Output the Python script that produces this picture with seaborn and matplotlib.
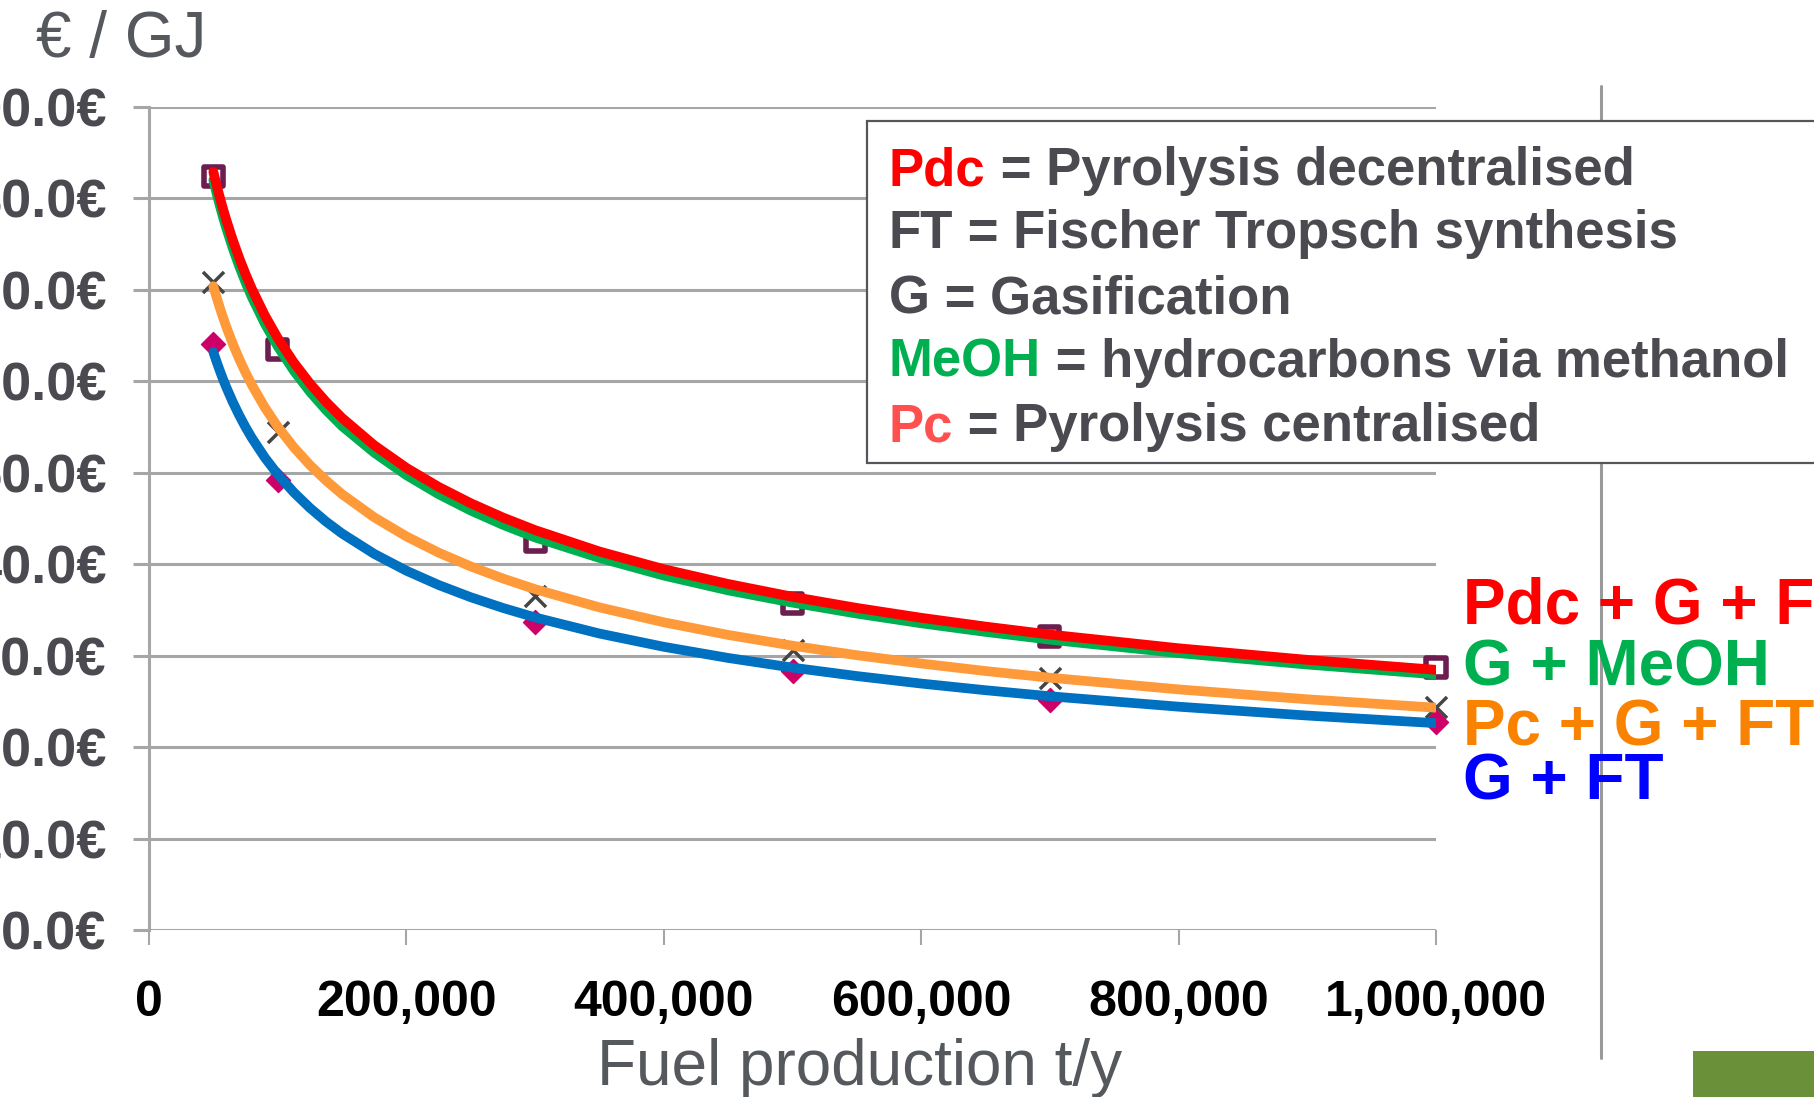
import matplotlib
matplotlib.use("Agg")
import matplotlib.pyplot as plt
import matplotlib.patches as mpatches
import seaborn as sns
import pandas as pd

# ---------------- data ----------------
x_points = [50000, 100000, 300000, 500000, 700000, 1000000]
cost_squares = [82.4, 63.5, 42.5, 35.7, 32.1, 28.7]      # Pdc + G + FT / G + MeOH markers
cost_crosses = [70.9, 54.5, 36.5, 30.6, 27.6, 24.4]      # Pc + G + FT markers
cost_diamonds = [64.1, 49.2, 33.7, 28.3, 25.2, 22.8]     # G + FT markers

trend_x = [50000, 52500, 55000, 57500, 60000, 65000, 70000, 75000, 80000, 90000,
           100000, 112500, 125000, 137500, 150000, 175000, 200000, 225000, 250000, 275000,
           300000, 350000, 400000, 450000, 500000, 550000, 600000, 650000, 700000, 800000,
           900000, 1000000]
trend_pdc_g_ft = [82.9, 81.47, 80.13, 78.86, 77.68, 75.49, 73.52, 71.73, 70.09, 67.21,
                  64.73, 62.06, 59.77, 57.77, 56.0, 53.01, 50.54, 48.46, 46.67, 45.11,
                  43.73, 41.39, 39.46, 37.84, 36.44, 35.22, 34.14, 33.18, 32.31, 30.81,
                  29.54, 28.45]
trend_g_meoh = [82.0, 80.57, 79.23, 77.96, 76.78, 74.59, 72.62, 70.83, 69.19, 66.31,
                63.83, 61.16, 58.87, 56.87, 55.1, 52.2, 49.74, 47.66, 45.87, 44.31,
                42.93, 40.69, 38.76, 37.14, 35.8, 34.6, 33.54, 32.6, 31.75, 30.28,
                29.03, 27.95]
trend_pc_g_ft = [70.4, 69.19, 68.06, 66.99, 65.99, 64.14, 62.47, 60.96, 59.58, 57.14,
                 55.04, 52.79, 50.85, 49.16, 47.66, 45.13, 43.04, 41.27, 39.76, 38.44,
                 37.27, 35.28, 33.65, 32.27, 31.09, 30.05, 29.14, 28.32, 27.59, 26.31,
                 25.23, 24.31]
trend_g_ft = [63.2, 62.15, 61.17, 60.24, 59.37, 57.76, 56.31, 54.99, 53.79, 51.66,
              49.83, 47.86, 46.16, 44.67, 43.36, 41.13, 39.29, 37.73, 36.39, 35.22,
              34.18, 32.42, 30.97, 29.75, 28.69, 27.77, 26.95, 26.22, 25.56, 24.42,
              23.45, 22.62]

y_ticks = [0, 10, 20, 30, 40, 50, 60, 70, 80, 90]
x_ticks = [0, 200000, 400000, 600000, 800000, 1000000]
x_tick_labels = ["0", "200,000", "400,000", "600,000", "800,000", "1,000,000"]

series_labels = ["Pdc + G + FT", "G + MeOH", "Pc + G + FT", "G + FT"]
series_colors = ["#ff0000", "#00b050", "#f98200", "#0000ff"]
line_colors = {"Pdc + G + FT": "#ff0000", "G + MeOH": "#00b050",
               "Pc + G + FT": "#ff9a3a", "G + FT": "#0070c0"}

legend_lines = [
    ("Pdc", "#ff0000", " = Pyrolysis decentralised"),
    ("FT", "#4a4a50", " = Fischer Tropsch synthesis"),
    ("G", "#4a4a50", " = Gasification"),
    ("MeOH", "#00b050", " = hydrocarbons via methanol"),
    ("Pc", "#ff5050", " = Pyrolysis centralised"),
]

# ---------------- style ----------------
sns.set_theme(style="white")
plt.rcParams["font.family"] = ["Liberation Sans", "DejaVu Sans"]

W, H = 1814, 1097
fig = plt.figure(figsize=(W / 100, H / 100), dpi=100)
fig.patch.set_facecolor("white")


def fx(px):
    return px / W


def fy(py):
    return 1 - py / H


ax_left, ax_right, ax_top, ax_bottom = 149, 1436, 107, 930
ax = fig.add_axes([fx(ax_left), fy(ax_bottom), fx(ax_right - ax_left), (ax_bottom - ax_top) / H])
ax.set_facecolor("white")

grid_col = "#a6a6a6"
ax.set_xlim(0, 1000000)
ax.set_ylim(0, 90)
ax.set_yticks(y_ticks)
ax.set_yticklabels([f"{v:.1f}€" for v in y_ticks])
ax.set_xticks(x_ticks)
ax.set_xticklabels(x_tick_labels)
ax.yaxis.grid(True, color=grid_col, linewidth=2.2, zorder=0)
ax.xaxis.grid(False)
ax.set_axisbelow(True)
for s in ["top", "right", "bottom"]:
    ax.spines[s].set_visible(False)
ax.spines["left"].set_color(grid_col)
ax.spines["left"].set_linewidth(2.2)

ax.tick_params(axis="y", which="major", direction="out", length=11.5, width=2.2,
               color=grid_col, pad=19, labelsize=39, labelcolor="#4a4a50", left=True)
ax.tick_params(axis="x", which="major", direction="out", length=11, width=1.5,
               color=grid_col, pad=25, labelsize=36, labelcolor="black", bottom=True)
for lab in ax.get_yticklabels() + ax.get_xticklabels():
    lab.set_fontweight("bold")

# markers (beneath trend lines)
df_sq = pd.DataFrame({"x": x_points, "y": cost_squares})
df_cr = pd.DataFrame({"x": x_points, "y": cost_crosses})
df_di = pd.DataFrame({"x": x_points, "y": cost_diamonds})
sns.scatterplot(data=df_sq, x="x", y="y", ax=ax, marker="s", s=190,
                facecolor="none", edgecolor="#6b1e4f", linewidth=4, zorder=3, clip_on=False)
sns.scatterplot(data=df_cr, x="x", y="y", ax=ax, marker="x", s=230,
                color="#454545", linewidth=2.5, zorder=3, clip_on=False)
sns.scatterplot(data=df_di, x="x", y="y", ax=ax, marker="D", s=150,
                color="#cc0066", edgecolor="#cc0066", zorder=3, clip_on=False)

# trend lines
n = len(trend_x)
trend_df = pd.DataFrame({
    "x": trend_x * 4,
    "y": trend_g_meoh + trend_pdc_g_ft + trend_pc_g_ft + trend_g_ft,
    "series": (["G + MeOH"] * n + ["Pdc + G + FT"] * n + ["Pc + G + FT"] * n + ["G + FT"] * n),
})
for name in ["G + FT", "Pc + G + FT", "G + MeOH", "Pdc + G + FT"]:
    sub = trend_df[trend_df["series"] == name]
    sns.lineplot(data=sub, x="x", y="y", ax=ax, color=line_colors[name], linewidth=7,
                 solid_capstyle="round", solid_joinstyle="round", zorder=4, legend=False,
                 sort=False, estimator=None)
ax.set_xlabel("")
ax.set_ylabel("")

# right-hand decorations
fig.add_artist(plt.Line2D([fx(1601), fx(1601)], [fy(86), fy(1058)], color="#9a9a9a", linewidth=2.2))
fig.add_artist(mpatches.Rectangle((fx(1693), 0), fx(W - 1693), (H - 1051) / H,
                                  facecolor="#6a913a", edgecolor="none"))

# legend box
box = mpatches.Rectangle((fx(867), fy(463)), fx(1000), (463 - 121) / H,
                         facecolor="white", edgecolor="#55555a", linewidth=1.6, zorder=10)
fig.add_artist(box)
renderer = fig.canvas.get_renderer()
baselines = [185, 248, 313, 377, 441]
for (pre, col, rest), yb in zip(legend_lines, baselines):
    t1 = fig.text(fx(889), fy(yb), pre, color=col, fontsize=38, fontweight="bold",
                  va="baseline", ha="left", zorder=11)
    bb = t1.get_window_extent(renderer=renderer)
    fig.text(bb.x1 / W, fy(yb), rest, color="#4a4a50", fontsize=38, fontweight="bold",
             va="baseline", ha="left", zorder=11)

# series labels at right
label_baselines = [623, 686, 745, 799]
for lab, col, yb in zip(series_labels, series_colors, label_baselines):
    fig.text(fx(1463), fy(yb), lab, color=col, fontsize=46, fontweight="bold",
             va="baseline", ha="left")

# axis titles
fig.text(fx(36), fy(57), "€ / GJ", color="#55585d", fontsize=46, va="baseline", ha="left")
fig.text(fx(860), fy(1085), "Fuel production t/y", color="#55585d", fontsize=46,
         va="baseline", ha="center")

fig.savefig("out.png", dpi=100, facecolor="white")
